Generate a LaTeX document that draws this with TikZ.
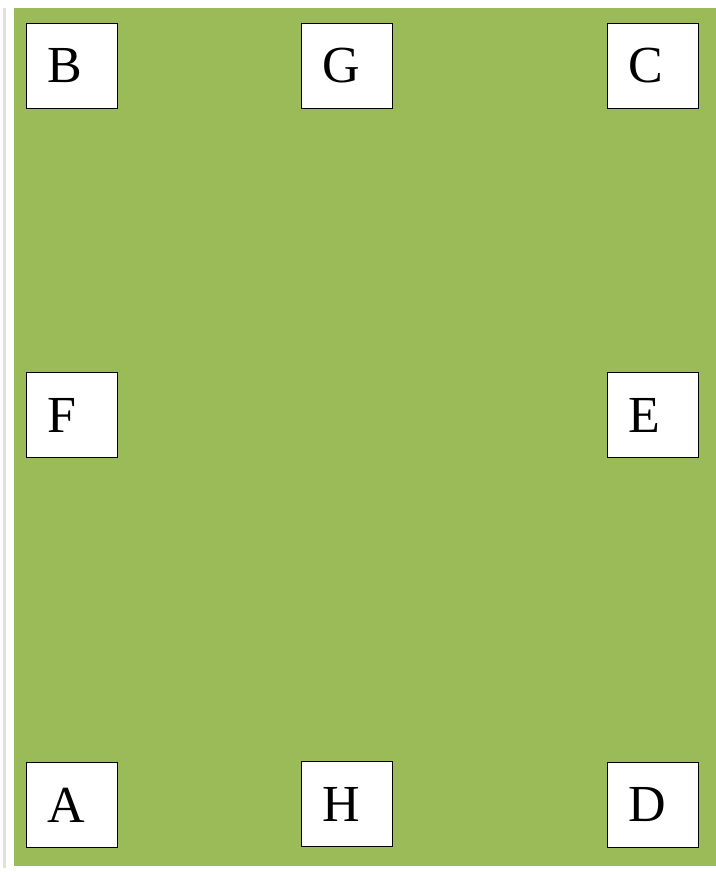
\documentclass[tikz,border=0pt]{standalone}
\usepackage{fontspec}
\setmainfont{Liberation Serif}
\definecolor{fieldgreen}{HTML}{9BBB59}
\tikzset{
  letterbox/.style={draw, fill=white, line width=1pt, minimum width=91pt, minimum height=85pt,
    text width=49pt, inner xsep=21pt, inner ysep=0pt, align=left,
    font=\fontsize{52}{60}\selectfont}
}

\begin{document}
\begin{tikzpicture}[x=1pt, y=-1pt]
\useasboundingbox (0,0) rectangle (715,872);
\fill[black!12] (3,8) rectangle (6,868);
\fill[fieldgreen] (14,8) rectangle (718,866);
\node[letterbox] (B) at (72,66) {B};
\node[letterbox] (G) at (347,66) {G};
\node[letterbox] (C) at (653,66) {C};
\node[letterbox] (F) at (72,415) {F};
\node[letterbox] (E) at (653,415) {E};
\node[letterbox] (A) at (72,805) {A};
\node[letterbox] (H) at (347,804) {H};
\node[letterbox] (D) at (653,805) {D};
\end{tikzpicture}
\end{document}
